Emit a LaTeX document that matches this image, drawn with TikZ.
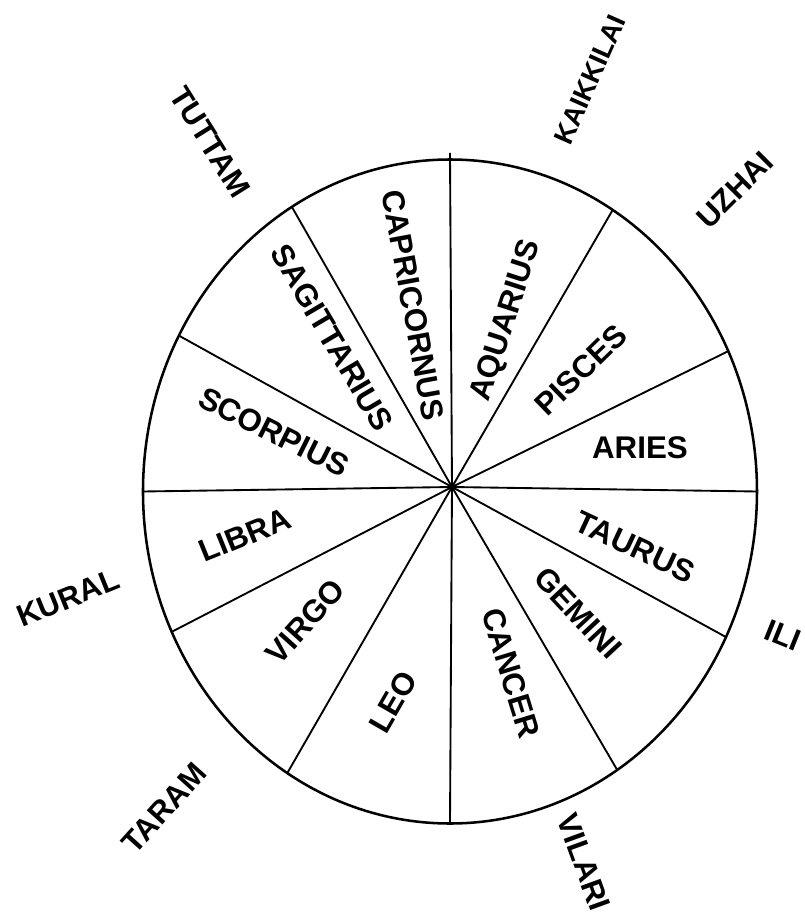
\documentclass[tikz,border=0pt]{standalone}
\usepackage{fontspec}
\setmainfont{Liberation Sans}
\usetikzlibrary{calc}

\begin{document}
\begin{tikzpicture}[x=0.75pt,y=0.75pt,
 rim/.style={line width=1.9pt},
 spoke/.style={line width=1.4pt},
 sign/.style={font=\fontsize{23.5}{23.5}\selectfont\bfseries,inner sep=0pt},
 season/.style={font=\fontsize{23}{23}\selectfont\bfseries,inner sep=0pt}]
\useasboundingbox (-452,-428) rectangle (353,487);
\coordinate (hub) at (0,0);
\coordinate (mid) at (-2,-4.5);
\draw[rim] (mid) ellipse [x radius=307,y radius=332];
% twelve spokes, the top one runs a little past the rim
\foreach \a/\s in {0/1,25/1,58/1,90/1.02,121/1,152/1,180/1,205/1,238/1,270/1,303/1,334/1}{
  \coordinate (end\a) at ($(mid)+(\a:{307*\s} and {332*\s})$);
  \draw[spoke] (hub) -- (end\a);
}
% zodiac signs
\foreach \x/\y/\r/\t in {-39/182/-79.5/CAPRICORNUS,-120/149/-59.5/SAGITTARIUS,
  -178/55/-26.6/SCORPIUS,55/166/72/AQUARIUS,129/117/44/PISCES,188/39/0/ARIES,
  -207/-48/22/LIBRA,-147/-135/48/VIRGO,-59/-215/60/LEO,59/-186/-73/CANCER,
  126/-126/-47/GEMINI,183/-60/-25/TAURUS}
  \node[sign,rotate=\r] (\t) at (\x,\y) {\t};
% outer names
\foreach \x/\y/\r/\t in {-242/345/-58/TUTTAM,283/297/45/UZHAI,
  331/-148/-22/ILI,-384/-111/22/KURAL,-288/-321/48/TARAM,132/-375/-70/VILARI}
  \node[season,rotate=\r] (\t) at (\x,\y) {\t};
\node[season,font=\fontsize{20.5}{20.5}\selectfont\bfseries,rotate=66] (KAIKKILAI) at (138,407) {KAIKKILAI};
\end{tikzpicture}
\end{document}
